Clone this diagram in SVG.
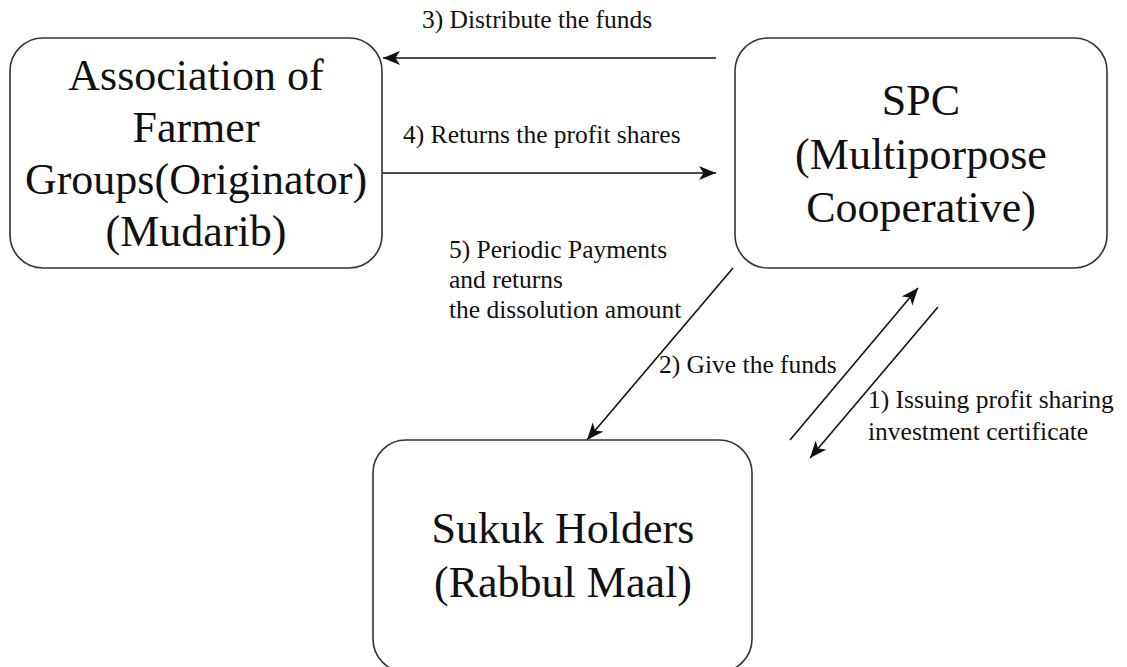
<svg xmlns="http://www.w3.org/2000/svg" width="1127" height="667" viewBox="0 0 1127 667">
  <defs>
    <style>
      .box { fill: #ffffff; stroke: #333333; stroke-width: 1.6; }
      .node-text { font-size: 44px; fill: #111111; text-anchor: middle; }
      .label { font-size: 25.5px; fill: #111111; }
      .edge { stroke: #111111; stroke-width: 1.6; fill: none; marker-end: url(#arrow); }
    </style>
    <marker id="arrow" markerUnits="userSpaceOnUse" markerWidth="20" markerHeight="16" refX="17" refY="7" orient="auto">
      <path d="M0,0 L17,7 L0,14 L4.5,7 Z" fill="#111111"/>
    </marker>
  </defs>

  <rect width="1127" height="667" fill="#ffffff"/>

  <!-- connectors and their labels -->
  <g id="connectors">
    <line class="edge" x1="716" y1="58" x2="383" y2="58"/>
    <line class="edge" x1="382" y1="173" x2="716" y2="173"/>
    <line class="edge" x1="733" y1="268" x2="587" y2="440"/>
    <line class="edge" x1="790" y1="440" x2="918" y2="288"/>
    <line class="edge" x1="938" y1="307" x2="810" y2="458"/>

    <text class="label" font-family="Liberation Serif, serif" x="422" y="28">3) Distribute the funds</text>
    <text class="label" font-family="Liberation Serif, serif" x="403" y="143">4) Returns the profit shares</text>
    <text class="label" font-family="Liberation Serif, serif" x="449" y="258">5) Periodic Payments</text>
    <text class="label" font-family="Liberation Serif, serif" x="449" y="288">and returns</text>
    <text class="label" font-family="Liberation Serif, serif" x="449" y="318">the dissolution amount</text>
    <text class="label" font-family="Liberation Serif, serif" x="659" y="373">2) Give the funds</text>
    <text class="label" font-family="Liberation Serif, serif" x="868" y="408">1) Issuing profit sharing</text>
    <text class="label" font-family="Liberation Serif, serif" x="868" y="440">investment certificate</text>
  </g>

  <!-- originator / mudarib -->
  <g id="node-originator">
    <rect class="box" x="10" y="38" width="372" height="230" rx="33" ry="33"/>
    <text class="node-text" font-family="Liberation Serif, serif" x="196" y="90">Association of</text>
    <text class="node-text" font-family="Liberation Serif, serif" x="196" y="142">Farmer</text>
    <text class="node-text" font-family="Liberation Serif, serif" x="196" y="194">Groups(Originator)</text>
    <text class="node-text" font-family="Liberation Serif, serif" x="196" y="246">(Mudarib)</text>
  </g>

  <!-- special purpose cooperative -->
  <g id="node-spc">
    <rect class="box" x="735" y="38" width="372" height="230" rx="33" ry="33"/>
    <text class="node-text" font-family="Liberation Serif, serif" x="921" y="115">SPC</text>
    <text class="node-text" font-family="Liberation Serif, serif" x="921" y="169">(Multiporpose</text>
    <text class="node-text" font-family="Liberation Serif, serif" x="921" y="222">Cooperative)</text>
  </g>

  <!-- investors -->
  <g id="node-sukuk">
    <rect class="box" x="373" y="440" width="379" height="232" rx="33" ry="33"/>
    <text class="node-text" font-family="Liberation Serif, serif" x="563" y="543">Sukuk Holders</text>
    <text class="node-text" font-family="Liberation Serif, serif" x="563" y="597">(Rabbul Maal)</text>
  </g>
</svg>
